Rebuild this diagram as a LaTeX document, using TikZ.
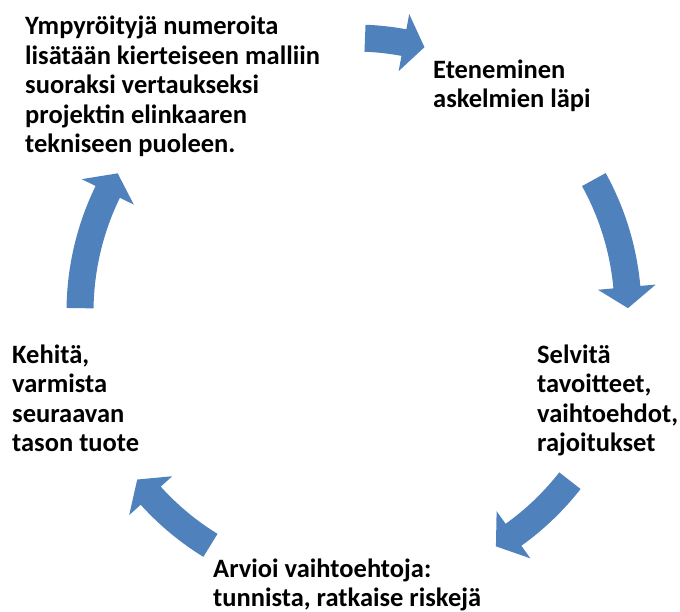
\documentclass[tikz,border=0pt]{standalone}
\usepackage{fontspec}
\setmainfont{Carlito}
\definecolor{cycleblue}{RGB}{79,129,189}

% curved block arrow on the cycle: tail angle, tip angle
\newcommand{\cyclearrow}[2]{%
  \fill[cyclearrowfill] (#1:287.5) arc[start angle=#1, end angle=#2+4.4, radius=287.5]
    -- (#2+4.4:303) -- (#2:274) -- (#2+4.4:245) -- (#2+4.4:260.5)
    arc[start angle=#2+4.4, end angle=#1, radius=260.5] -- cycle;}

\begin{document}
\begin{tikzpicture}[x=1pt, y=1pt,
          every node/.style = {align=left, anchor=base west, inner sep=0pt,
                               font=\bfseries\fontsize{26.5}{29.5}\selectfont},
          cyclearrowfill/.style = {fill=cycleblue}]
  \useasboundingbox (0,0) rectangle (680,612);
  \coordinate (hub) at (354,300);
  % base = baseline of the last line
  \node (kierre)  at (25,459)  {Ympyröityjä numeroita\\lisätään kierteiseen malliin\\suoraksi vertaukseksi\\projektin elinkaaren\\tekniseen puoleen.};
  \node (eteneminen) at (433,504) {Eteneminen\\askelmien läpi};
  \node (selvita) at (537,160) {Selvitä\\tavoitteet,\\vaihtoehdot,\\rajoitukset};
  \node (arvioi)  at (213,5)  {Arvioi vaihtoehtoja:\\tunnista, ratkaise riskejä};
  \node (kehita)  at (12,160)  {Kehitä,\\varmista\\seuraavan\\tason tuote};
  \begin{scope}[shift={(hub)}]
    \cyclearrow{87.7}{75.1}
    \cyclearrow{28.9}{0.8}
    \cyclearrow{-38}{-58.8}
    \cyclearrow{-121.6}{-142.3}
    \cyclearrow{179.2}{149.6}
  \end{scope}
\end{tikzpicture}
\end{document}
